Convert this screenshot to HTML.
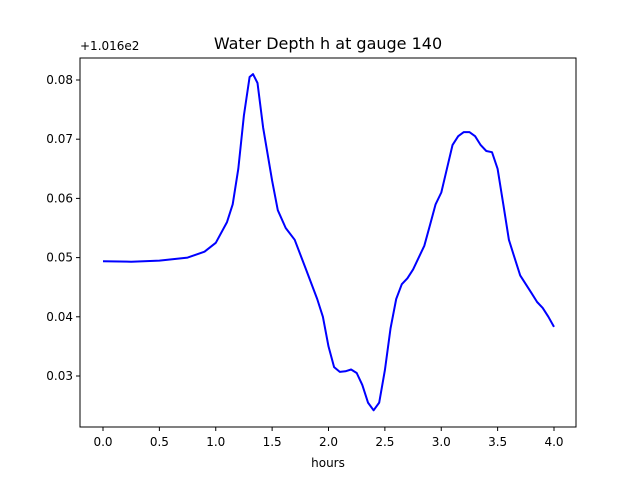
<!DOCTYPE html>
<html><head><meta charset="utf-8"><style>
body{margin:0;background:#fff}
svg text{font-family:"DejaVu Sans","Liberation Sans",sans-serif;fill:#000}
</style></head><body>
<svg id="chart" width="640" height="480">
<rect width="640" height="480" fill="#fff"/>
<text x="328" y="49" font-size="16" text-anchor="middle">Water Depth h at gauge 140</text>
<text x="80" y="50" font-size="12">+1.016e2</text>
<g id="xt"></g>
<g id="yt"></g>
<path id="line" fill="none" stroke="#0000ff" stroke-width="2" stroke-linejoin="round"/>
<rect x="80" y="58" width="496" height="369" fill="none" stroke="#000" stroke-width="1"/>
<text x="328" y="467" font-size="12" text-anchor="middle">hours</text>
</svg>
<script>
const hours=[0,0.25,0.5,0.75,0.9,1.0,1.1,1.15,1.2,1.25,1.3,1.33,1.37,1.42,1.5,1.55,1.62,1.7,1.8,1.9,1.95,2.0,2.05,2.1,2.15,2.2,2.25,2.3,2.35,2.4,2.45,2.5,2.55,2.6,2.65,2.7,2.75,2.85,2.9,2.95,3.0,3.05,3.1,3.15,3.2,3.25,3.3,3.35,3.4,3.45,3.5,3.55,3.6,3.65,3.7,3.8,3.85,3.9,3.95,4.0];
const depth=[0.0494,0.0493,0.0495,0.0500,0.0510,0.0525,0.0560,0.0590,0.0650,0.0740,0.0805,0.0810,0.0795,0.0720,0.0630,0.0580,0.0550,0.0530,0.0480,0.0430,0.0400,0.0350,0.0315,0.0307,0.0308,0.0311,0.0305,0.0285,0.0255,0.0242,0.0255,0.0310,0.0380,0.0430,0.0455,0.0465,0.0480,0.0520,0.0555,0.0590,0.0610,0.0650,0.0690,0.0705,0.0712,0.0712,0.0705,0.0690,0.0680,0.0678,0.0650,0.0590,0.0530,0.0500,0.0470,0.0440,0.0425,0.0415,0.0400,0.0383];
const xTicks=[0,0.5,1,1.5,2,2.5,3,3.5,4];
const xTickLabels=["0.0","0.5","1.0","1.5","2.0","2.5","3.0","3.5","4.0"];
const yTicks=[0.03,0.04,0.05,0.06,0.07,0.08];
const yTickLabels=["0.03","0.04","0.05","0.06","0.07","0.08"];
const X=v=>103+v*112.75, Y=v=>80+(0.08-v)*5920;
const ns="http://www.w3.org/2000/svg";
function mk(t,a,p){const e=document.createElementNS(ns,t);for(const k in a)e.setAttribute(k,a[k]);p.appendChild(e);return e;}
const xt=document.getElementById('xt'),yt=document.getElementById('yt');
xTicks.forEach((v,i)=>{
 const l=mk('line',{x1:X(v),x2:X(v),y1:427,y2:431,stroke:'#000'},xt);
 
 
 const t=mk('text',{x:X(v),y:446,'font-size':12,'text-anchor':'middle'},xt);t.textContent=xTickLabels[i];
 
 
});
yTicks.forEach((v,i)=>{
 const l=mk('line',{x1:76,x2:80,y1:Y(v),y2:Y(v),stroke:'#000'},yt);
 
 
 const t=mk('text',{x:73,y:Y(v)+4,'font-size':12,'text-anchor':'end'},yt);t.textContent=yTickLabels[i];
 
 
});
document.getElementById('line').setAttribute('d',hours.map((h,i)=>(i?'L':'M')+X(h).toFixed(1)+' '+Y(depth[i]).toFixed(1)).join(''));
</script>
</body></html>
